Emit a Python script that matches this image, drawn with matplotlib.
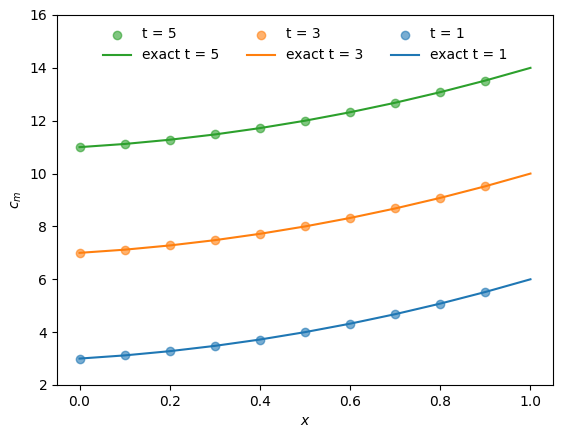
import matplotlib
matplotlib.use("Agg")
import matplotlib.pyplot as plt

x_pts = [0.0, 0.1, 0.2, 0.3, 0.4, 0.5, 0.6, 0.7, 0.8, 0.9]
x_line = [0.0, 0.1, 0.2, 0.3, 0.4, 0.5, 0.6, 0.7, 0.8, 0.9, 1.0]

c_t1 = [3.0, 3.12, 3.28, 3.48, 3.72, 4.0, 4.32, 4.68, 5.08, 5.52, 6.0]
c_t3 = [7.0, 7.12, 7.28, 7.48, 7.72, 8.0, 8.32, 8.68, 9.08, 9.52, 10.0]
c_t5 = [11.0, 11.12, 11.28, 11.48, 11.72, 12.0, 12.32, 12.68, 13.08, 13.52, 14.0]

series = [("5", c_t5, "tab:green"), ("3", c_t3, "tab:orange"), ("1", c_t1, "tab:blue")]

fig = plt.figure(figsize=(5.63, 4.38), dpi=100)
ax = fig.add_axes([57/563, 53/438, 496/563, 370/438])
for t, vals, col in series:
    ax.scatter(x_pts, vals[:len(x_pts)], color=col, alpha=0.6, label=f"t = {t}")
    ax.plot(x_line, vals, color=col, label=f"exact t = {t}")

ax.set_ylim(2, 16)
ax.set_xlabel("$x$")
ax.set_ylabel("$c_m$")
ax.legend(ncol=3, frameon=False, loc="upper center")
fig.savefig("out.png", dpi=100)
